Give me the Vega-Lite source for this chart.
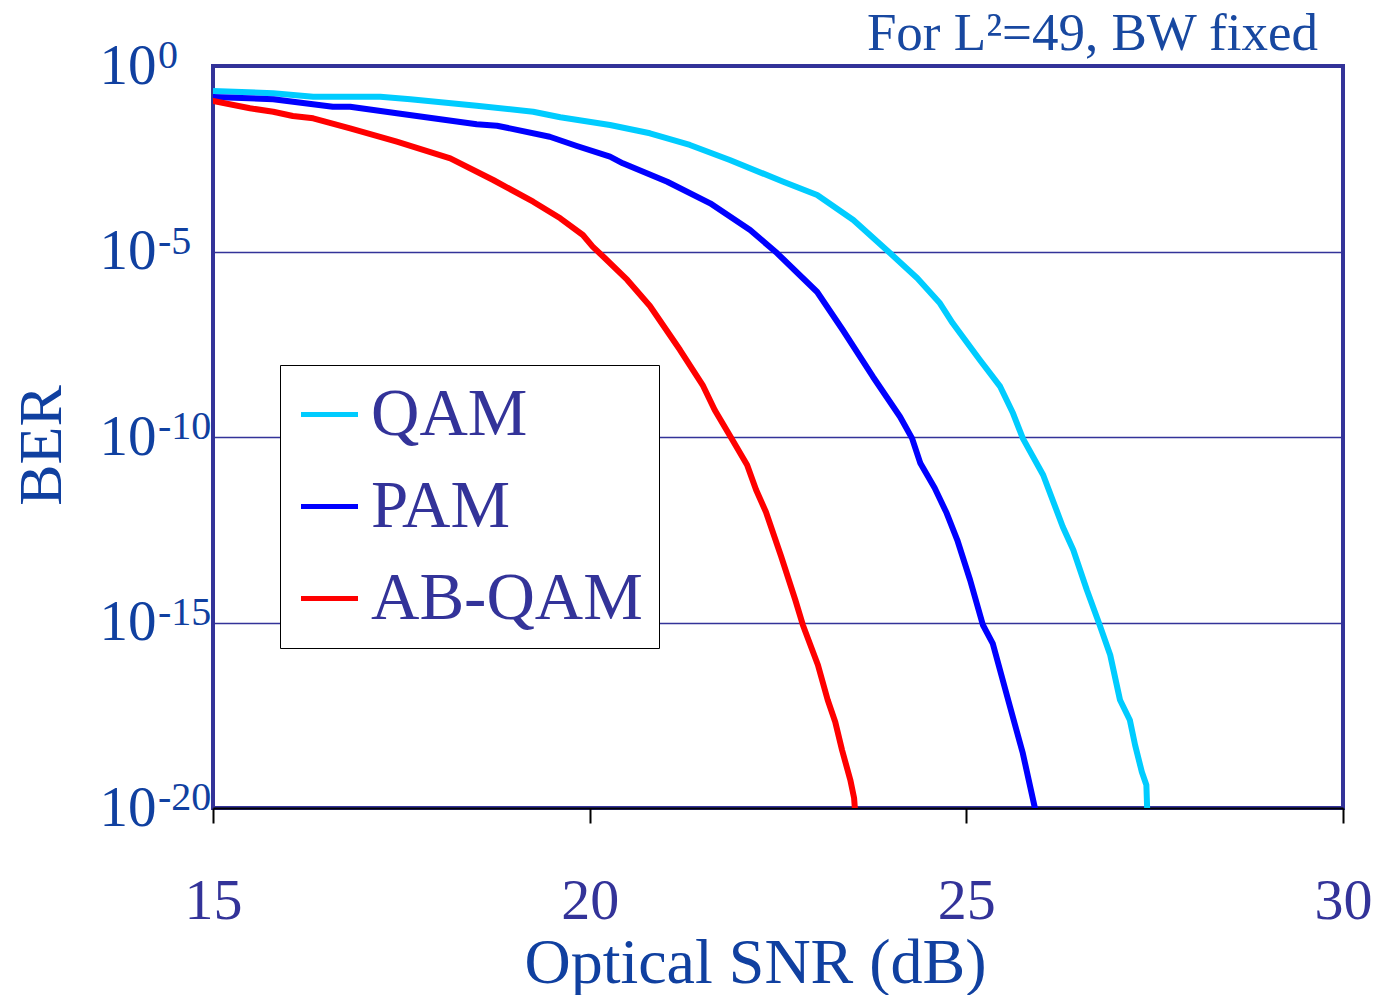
{
  "$schema": "https://vega.github.io/schema/vega-lite/v6.json",
  "width": 1130,
  "height": 742,
  "autosize": {"type": "none"},
  "padding": {"left": 213, "top": 66, "right": 37, "bottom": 187},
  "background": "white",
  "title": {
    "text": "For L²=49, BW fixed",
    "anchor": "end",
    "frame": "group",
    "orient": "top",
    "baseline": "alphabetic",
    "offset": -33,
    "dx": -25,
    "dy": 34,
    "font": "Liberation Serif",
    "fontSize": 53,
    "fontWeight": "normal",
    "color": "#1848a0"
  },
  "config": {
    "view": {"stroke": "#333399", "strokeWidth": 4},
    "font": "Liberation Serif"
  },
  "datasets": {
    "curves": [
      {"s": "QAM", "snr": 15.00, "ber": 0.212},
      {"s": "QAM", "snr": 15.80, "ber": 0.184},
      {"s": "QAM", "snr": 16.33, "ber": 0.149},
      {"s": "QAM", "snr": 17.22, "ber": 0.149},
      {"s": "QAM", "snr": 17.62, "ber": 0.127},
      {"s": "QAM", "snr": 18.50, "ber": 0.0851},
      {"s": "QAM", "snr": 19.25, "ber": 0.0586},
      {"s": "QAM", "snr": 19.61, "ber": 0.0414},
      {"s": "QAM", "snr": 20.27, "ber": 0.0257},
      {"s": "QAM", "snr": 20.80, "ber": 0.01535},
      {"s": "QAM", "snr": 21.33, "ber": 0.00743},
      {"s": "QAM", "snr": 21.86, "ber": 0.00292},
      {"s": "QAM", "snr": 22.57, "ber": 7.6e-4},
      {"s": "QAM", "snr": 23.02, "ber": 3.33e-4},
      {"s": "QAM", "snr": 23.50, "ber": 7.06e-5},
      {"s": "QAM", "snr": 23.99, "ber": 8.94e-6},
      {"s": "QAM", "snr": 24.35, "ber": 1.9e-6},
      {"s": "QAM", "snr": 24.65, "ber": 4.02e-7},
      {"s": "QAM", "snr": 24.82, "ber": 1.16e-7},
      {"s": "QAM", "snr": 25.18, "ber": 1.19e-8},
      {"s": "QAM", "snr": 25.45, "ber": 2.27e-9},
      {"s": "QAM", "snr": 25.62, "ber": 4.35e-10},
      {"s": "QAM", "snr": 25.75, "ber": 9.2e-11},
      {"s": "QAM", "snr": 26.02, "ber": 9.46e-12},
      {"s": "QAM", "snr": 26.28, "ber": 3.82e-13},
      {"s": "QAM", "snr": 26.42, "ber": 9.0e-14},
      {"s": "QAM", "snr": 26.60, "ber": 7.52e-15},
      {"s": "QAM", "snr": 26.77, "ber": 8.57e-16},
      {"s": "QAM", "snr": 26.91, "ber": 1.33e-16},
      {"s": "QAM", "snr": 27.04, "ber": 8.15e-18},
      {"s": "QAM", "snr": 27.17, "ber": 2.36e-18},
      {"s": "QAM", "snr": 27.24, "ber": 4.99e-19},
      {"s": "QAM", "snr": 27.33, "ber": 9.3e-20},
      {"s": "QAM", "snr": 27.39, "ber": 4.17e-20},
      {"s": "QAM", "snr": 27.40, "ber": 1e-20},
      {"s": "PAM", "snr": 15.00, "ber": 0.146},
      {"s": "PAM", "snr": 15.80, "ber": 0.127},
      {"s": "PAM", "snr": 16.59, "ber": 0.080},
      {"s": "PAM", "snr": 16.82, "ber": 0.080},
      {"s": "PAM", "snr": 17.44, "ber": 0.0531},
      {"s": "PAM", "snr": 18.50, "ber": 0.0268},
      {"s": "PAM", "snr": 18.77, "ber": 0.0246},
      {"s": "PAM", "snr": 19.47, "ber": 0.0124},
      {"s": "PAM", "snr": 19.83, "ber": 0.00698},
      {"s": "PAM", "snr": 20.27, "ber": 0.00359},
      {"s": "PAM", "snr": 20.44, "ber": 0.00238},
      {"s": "PAM", "snr": 21.03, "ber": 7.6e-4},
      {"s": "PAM", "snr": 21.60, "ber": 1.99e-4},
      {"s": "PAM", "snr": 22.13, "ber": 3.8e-5},
      {"s": "PAM", "snr": 22.49, "ber": 8.94e-6},
      {"s": "PAM", "snr": 23.02, "ber": 8.1e-7},
      {"s": "PAM", "snr": 23.36, "ber": 7.66e-8},
      {"s": "PAM", "snr": 23.76, "ber": 4.22e-9},
      {"s": "PAM", "snr": 24.12, "ber": 3.52e-10},
      {"s": "PAM", "snr": 24.28, "ber": 9.2e-11},
      {"s": "PAM", "snr": 24.39, "ber": 1.95e-11},
      {"s": "PAM", "snr": 24.58, "ber": 4.22e-12},
      {"s": "PAM", "snr": 24.74, "ber": 8.77e-13},
      {"s": "PAM", "snr": 24.88, "ber": 1.67e-13},
      {"s": "PAM", "snr": 25.05, "ber": 1.4e-14},
      {"s": "PAM", "snr": 25.22, "ber": 8.57e-16},
      {"s": "PAM", "snr": 25.35, "ber": 2.75e-16},
      {"s": "PAM", "snr": 25.58, "ber": 5.37e-18},
      {"s": "PAM", "snr": 25.75, "ber": 2.98e-19},
      {"s": "PAM", "snr": 25.91, "ber": 1e-20},
      {"s": "AB-QAM", "snr": 15.00, "ber": 0.114},
      {"s": "AB-QAM", "snr": 15.49, "ber": 0.0724},
      {"s": "AB-QAM", "snr": 15.80, "ber": 0.0586},
      {"s": "AB-QAM", "snr": 16.06, "ber": 0.0449},
      {"s": "AB-QAM", "snr": 16.33, "ber": 0.0389},
      {"s": "AB-QAM", "snr": 16.82, "ber": 0.0209},
      {"s": "AB-QAM", "snr": 17.44, "ber": 0.00911},
      {"s": "AB-QAM", "snr": 18.15, "ber": 0.00325},
      {"s": "AB-QAM", "snr": 18.72, "ber": 8.46e-4},
      {"s": "AB-QAM", "snr": 19.25, "ber": 2.2e-4},
      {"s": "AB-QAM", "snr": 19.61, "ber": 7.85e-5},
      {"s": "AB-QAM", "snr": 19.91, "ber": 2.79e-5},
      {"s": "AB-QAM", "snr": 20.04, "ber": 1.35e-5},
      {"s": "AB-QAM", "snr": 20.20, "ber": 6.68e-6},
      {"s": "AB-QAM", "snr": 20.50, "ber": 1.71e-6},
      {"s": "AB-QAM", "snr": 20.80, "ber": 3.4e-7},
      {"s": "AB-QAM", "snr": 21.20, "ber": 2.21e-8},
      {"s": "AB-QAM", "snr": 21.50, "ber": 2.52e-9},
      {"s": "AB-QAM", "snr": 21.66, "ber": 5.34e-10},
      {"s": "AB-QAM", "snr": 21.88, "ber": 9.4e-11},
      {"s": "AB-QAM", "snr": 22.09, "ber": 1.76e-11},
      {"s": "AB-QAM", "snr": 22.21, "ber": 3.73e-12},
      {"s": "AB-QAM", "snr": 22.34, "ber": 9.5e-13},
      {"s": "AB-QAM", "snr": 22.54, "ber": 6.2e-14},
      {"s": "AB-QAM", "snr": 22.73, "ber": 4.04e-15},
      {"s": "AB-QAM", "snr": 22.83, "ber": 8.57e-16},
      {"s": "AB-QAM", "snr": 23.03, "ber": 7.15e-17},
      {"s": "AB-QAM", "snr": 23.16, "ber": 8.15e-18},
      {"s": "AB-QAM", "snr": 23.26, "ber": 2.08e-18},
      {"s": "AB-QAM", "snr": 23.35, "ber": 3.66e-19},
      {"s": "AB-QAM", "snr": 23.46, "ber": 5.69e-20},
      {"s": "AB-QAM", "snr": 23.51, "ber": 1.86e-20},
      {"s": "AB-QAM", "snr": 23.52, "ber": 1e-20}
    ],
    "exponents": [
      {"ber": 1, "e": "0"},
      {"ber": 1e-5, "e": "-5"},
      {"ber": 1e-10, "e": "-10"},
      {"ber": 1e-15, "e": "-15"},
      {"ber": 1e-20, "e": "-20"}
    ]
  },
  "layer": [
    {
      "data": {"name": "curves"},
      "mark": {"type": "line", "strokeWidth": 6, "strokeCap": "round", "strokeJoin": "round", "clip": true},
      "encoding": {
        "x": {
          "field": "snr",
          "type": "quantitative",
          "scale": {"domain": [15, 30], "nice": false, "zero": false},
          "axis": {
            "values": [15, 20, 25, 30],
            "format": "d",
            "title": "Optical SNR (dB)",
            "grid": false,
            "domainColor": "black",
            "domainWidth": 2,
            "tickColor": "black",
            "tickWidth": 2,
            "tickSize": 15,
            "labelFont": "Liberation Serif",
            "labelFontSize": 58,
            "labelColor": "#333399",
            "labelBaseline": "alphabetic",
            "labelPadding": 95,
            "labelFlush": false,
            "labelOverlap": false,
            "titleFont": "Liberation Serif",
            "titleFontSize": 64,
            "titleFontWeight": "normal",
            "titleColor": "#1040a0",
            "titleX": 542,
            "titleY": 174,
            "titleBaseline": "alphabetic",
            "titleAlign": "center"
          }
        },
        "y": {
          "field": "ber",
          "type": "quantitative",
          "scale": {"type": "log", "domain": [1e-20, 1], "nice": false},
          "axis": {
            "values": [1, 1e-5, 1e-10, 1e-15, 1e-20],
            "labelExpr": "'10'",
            "title": "BER",
            "grid": true,
            "gridColor": "#333399",
            "gridWidth": 1.5,
            "gridOpacity": 1,
            "domain": false,
            "ticks": false,
            "labelFont": "Liberation Serif",
            "labelFontSize": 57,
            "labelColor": "#1040a0",
            "labelPadding": 57,
            "labelFlush": false,
            "labelOverlap": false,
            "labelBaseline": "middle",
            "titleFont": "Liberation Serif",
            "titleFontSize": 62,
            "titleFontWeight": "normal",
            "titleColor": "#1040a0",
            "titleAngle": -90,
            "titleX": -153,
            "titleY": 379,
            "titleBaseline": "alphabetic",
            "titleAlign": "center"
          }
        },
        "color": {
          "field": "s",
          "type": "nominal",
          "scale": {"domain": ["QAM", "PAM", "AB-QAM"], "range": ["#00ccff", "#0000ff", "#ff0000"]},
          "legend": {
            "orient": "none",
            "legendX": 67,
            "legendY": 299,
            "title": null,
            "symbolType": "stroke",
            "symbolSize": 3249,
            "symbolStrokeWidth": 5,
            "labelFont": "Liberation Serif",
            "labelFontSize": 67,
            "labelColor": "#333399",
            "labelOffset": 8,
            "labelLimit": 0,
            "rowPadding": 24,
            "padding": 16,
            "strokeColor": "black",
            "fillColor": "white",
            "cornerRadius": 0
          }
        }
      }
    },
    {
      "data": {"name": "exponents"},
      "mark": {
        "type": "text",
        "align": "left",
        "baseline": "alphabetic",
        "dx": -55,
        "dy": 2,
        "font": "Liberation Serif",
        "fontSize": 40,
        "color": "#1040a0"
      },
      "encoding": {
        "x": {"datum": 15, "type": "quantitative"},
        "y": {"field": "ber", "type": "quantitative"},
        "text": {"field": "e", "type": "nominal"}
      }
    }
  ]
}
